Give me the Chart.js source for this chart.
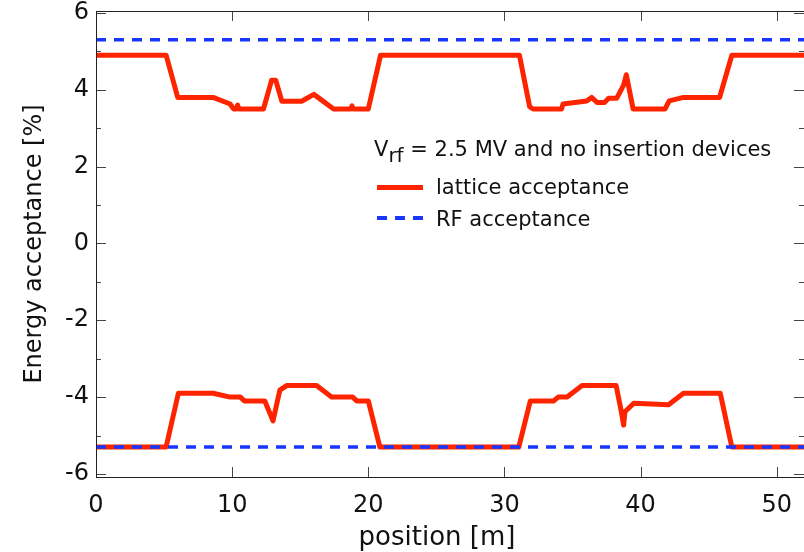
<!DOCTYPE html>
<html>
<head>
<meta charset="utf-8">
<script src="https://cdn.jsdelivr.net/npm/chart.js@4.4.1/dist/chart.umd.min.js"></script>
<style>
  html, body { margin: 0; padding: 0; background: #fff; }
  #wrap { position: relative; width: 804px; height: 552px; overflow: hidden; }
  .legend { position: absolute; font-family: "DejaVu Sans", sans-serif; font-size: 21px; line-height: 21px; color: #111; white-space: nowrap; }
  .legend sub { font-size: 20px; vertical-align: baseline; position: relative; top: 6px; }
  .swatch { position: absolute; left: 377px; width: 46px; }
  #swRed { top: 185px; height: 5px; background: #ff2400; }
  #swBlue { top: 216px; height: 4px; background: repeating-linear-gradient(90deg, #1836ff 0 10px, transparent 10px 18px); }
  #xTitle { position: absolute; left: 0; width: 874px; top: 523px; text-align: center; font-family: "DejaVu Sans", sans-serif; font-size: 26px; line-height: 26px; color: #111; }
</style>
</head>
<body>
<div id="wrap">
  <canvas id="chart"></canvas>
  <div class="legend" style="left:374px; top:139px;">V<sub>rf</sub> = 2.5 MV and no insertion devices</div>
  <div class="swatch" id="swRed"></div>
  <div class="legend" style="left:436px; top:177px;">lattice acceptance</div>
  <div class="swatch" id="swBlue"></div>
  <div class="legend" style="left:436px; top:209px;">RF acceptance</div>
  <div id="xTitle">position [m]</div>
</div>
<script>
// values: position in m, acceptance in %
const upperPos = [0, 5.15, 6.0, 8.6, 9.85, 10.1, 10.3, 10.4, 10.5, 12.3, 12.9, 13.2, 13.65, 15.1, 15.5, 16.0, 17.45, 18.7, 18.8, 18.9, 20.0, 20.9,
  31.1, 31.85, 32.1, 34.2, 34.3, 36.05, 36.4, 36.8, 37.35, 37.65, 38.25, 38.75, 38.95, 39.45, 41.8, 42.1, 43.15, 45.8, 46.7, 52];
const upperVal = [4.9, 4.9, 3.8, 3.8, 3.63, 3.5, 3.5, 3.6, 3.5, 3.5, 4.25, 4.25, 3.7, 3.7, 3.78, 3.88, 3.5, 3.5, 3.58, 3.5, 3.5, 4.9,
  4.9, 3.56, 3.5, 3.5, 3.63, 3.71, 3.8, 3.67, 3.67, 3.78, 3.78, 4.12, 4.39, 3.5, 3.5, 3.71, 3.8, 3.8, 4.9, 4.9];

const lowerPos = [0, 5.15, 6.05, 8.6, 9.85, 10.6, 10.9, 12.4, 13.0, 13.5, 14.0, 16.2, 17.3, 18.85, 19.15, 20.0, 20.85,
  31.05, 31.9, 33.6, 33.95, 34.6, 35.7, 38.2, 38.6, 38.75, 38.85, 39.5, 42.05, 43.15, 45.85, 46.7, 52];
const lowerVal = [-5.3, -5.3, -3.9, -3.9, -4.0, -4.0, -4.1, -4.1, -4.62, -3.82, -3.7, -3.7, -4.0, -4.0, -4.1, -4.1, -5.3,
  -5.3, -4.1, -4.1, -4.0, -4.0, -3.7, -3.7, -4.41, -4.73, -4.38, -4.16, -4.2, -3.9, -3.9, -5.3, -5.3];

const rfPos = [0, 52];
const rfUpper = [5.3, 5.3];
const rfLower = [-5.3, -5.3];

const xTicks = [0, 10, 20, 30, 40, 50];
const yTicks = [-6, -4, -2, 0, 2, 4, 6];
const yMinorTicks = [-5, -3, -1, 1, 3, 5];

const RED = "#ff2400";
const BLUE = "#1836ff";
const FONT = "DejaVu Sans";

const pts = (xs, ys) => xs.map((x, i) => ({ x, y: ys[i] }));

// ticks point inward on all four sides, like the original plot
const frameTicks = {
  id: "frameTicks",
  afterDatasetsDraw(chart) {
    const { ctx, chartArea: a, scales: { x, y } } = chart;
    ctx.save();
    ctx.strokeStyle = "#444";
    ctx.lineWidth = 1;
    ctx.beginPath();
    for (const v of yTicks) {
      const p = Math.round(y.getPixelForValue(v)) + 0.5;
      ctx.moveTo(a.left, p); ctx.lineTo(a.left + 10, p);
      ctx.moveTo(a.right, p); ctx.lineTo(a.right - 10, p);
    }
    for (const v of yMinorTicks) {
      const p = Math.round(y.getPixelForValue(v)) + 0.5;
      ctx.moveTo(a.left, p); ctx.lineTo(a.left + 5, p);
      ctx.moveTo(a.right, p); ctx.lineTo(a.right - 5, p);
    }
    for (const v of xTicks) {
      const p = Math.round(x.getPixelForValue(v)) + 0.5;
      ctx.moveTo(p, a.bottom); ctx.lineTo(p, a.bottom - 10);
      ctx.moveTo(p, a.top); ctx.lineTo(p, a.top + 10);
    }
    ctx.stroke();
    ctx.strokeStyle = "#222";
    ctx.strokeRect(Math.round(a.left) + 0.5, Math.round(a.top) + 0.5,
      Math.round(a.right - a.left), Math.round(a.bottom - a.top));
    ctx.restore();
  },
};

Chart.defaults.font.family = FONT;
Chart.defaults.color = "#111";

new Chart(document.getElementById("chart"), {
  type: "scatter",
  data: {
    datasets: [
      { label: "RF acceptance", data: pts(rfPos, rfUpper), borderColor: BLUE, borderWidth: 3.5, borderDash: [10, 8], order: 0 },
      { label: "RF acceptance", data: pts(rfPos, rfLower), borderColor: BLUE, borderWidth: 3.5, borderDash: [10, 8], order: 0 },
      { label: "lattice acceptance", data: pts(upperPos, upperVal), borderColor: RED, borderWidth: 5, order: 1 },
      { label: "lattice acceptance", data: pts(lowerPos, lowerVal), borderColor: RED, borderWidth: 5, order: 1 },
    ].map((d) => ({ ...d, showLine: true, pointRadius: 0, pointHoverRadius: 0, borderJoinStyle: "round", tension: 0 })),
  },
  options: {
    responsive: true,
    maintainAspectRatio: false,
    animation: false,
    events: [],
    layout: { padding: { top: 11, right: 0, bottom: 0, left: 0 } },
    plugins: { legend: { display: false }, tooltip: { enabled: false } },
    scales: {
      x: {
        type: "linear",
        min: 0,
        max: 52,
        grid: { display: false },
        border: { display: false },
        afterBuildTicks: (s) => { s.ticks = xTicks.map((value) => ({ value })); },
        afterFit: (s) => { s.height = 75; s.paddingLeft = 0; s.paddingRight = 0; },
        ticks: { font: { size: 24 }, padding: 6, maxRotation: 0, callback: (v) => String(v) },
      },
      y: {
        type: "linear",
        min: -6.08,
        max: 6.05,
        grid: { display: false, drawTicks: false },
        border: { display: false },
        afterBuildTicks: (s) => { s.ticks = yTicks.map((value) => ({ value })); },
        afterFit: (s) => { s.width = 96; s.paddingTop = 0; s.paddingBottom = 0; },
        ticks: { font: { size: 24 }, padding: 7, callback: (v) => String(v) },
        title: { display: true, text: "Energy acceptance [%]", font: { size: 24 }, padding: { top: 20, bottom: 0 } },
      },
    },
  },
  plugins: [frameTicks],
});
</script>
</body>
</html>
